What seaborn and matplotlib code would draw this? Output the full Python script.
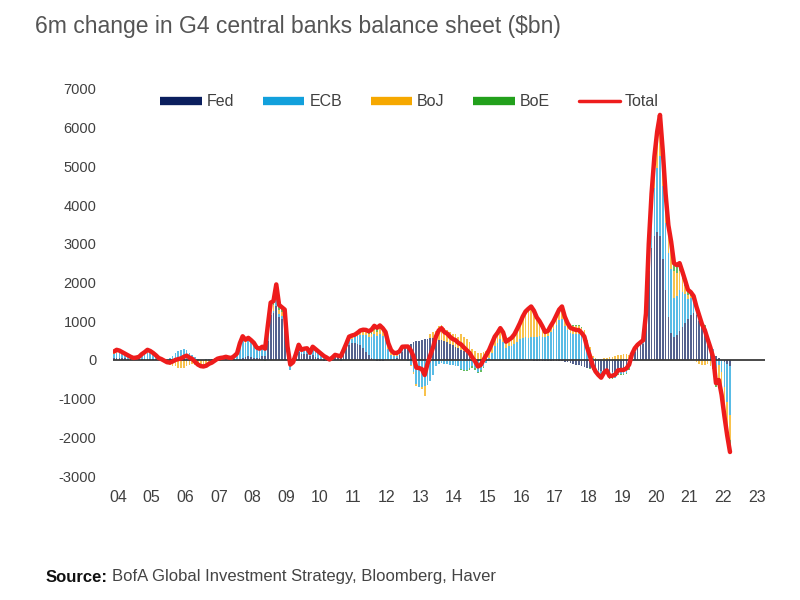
import numpy as np
import pandas as pd
import matplotlib
matplotlib.use("Agg")
import matplotlib.pyplot as plt
import seaborn as sns
from matplotlib.lines import Line2D

# monthly 6m change, $bn, May 2004 .. Sep 2022
fed = [
    40, 50, 50, 40, 40, 30, 30, 20,
    20, 20, 30, 30, 30, 30, 20, 20, 10, 10, 10, 0,
    0, 10, 10, 20, 20, 20, 20, 10, 10, 0, 0, 0,
    0, 0, 0, 10, 10, 10, 10, 0, -10, -10, 0, 20,
    10, 30, 60, 80, 100, 80, 60, 40, 60, 100, 100, 500,
    1150, 1200, 1400, 1100, 1050, 1000, 300, 100, -50, 80, 200, 150,
    150, 150, 100, 120, 80, 40, 0, -20, -20, 0, 40, 80,
    100, 120, 200, 300, 380, 430, 440, 420, 380, 300, 200, 120,
    50, 0, -20, -30, -20, 0, 0, 0, 20, 60, 120, 200,
    300, 380, 420, 450, 480, 500, 520, 540, 550, 560, 560, 550,
    520, 520, 480, 450, 420, 380, 340, 300, 260, 220, 170, 100,
    30, 0, -20, -20, 0, 0, 0, 0, 0, 0, 0, 0,
    0, 0, 0, 0, 0, 0, 0, 0, 0, 0, -20, -30,
    -30, -20, -20, -20, -20, -20, -20, -20, -30, -50, -60, -80,
    -100, -120, -140, -160, -180, -200, -220, -240, -250, -260, -280, -300,
    -300, -320, -320, -300, -280, -260, -250, -220, -150, 50, 200, 300,
    380, 420, 900, 2300, 2900, 3200, 3300, 3200, 2600, 1800, 1100, 700,
    600, 650, 750, 850, 950, 1050, 1150, 1200, 1150, 1000, 850, 700,
    500, 350, 200, 100, 50, 0, -50, -100, -150,
]
ecb = [
    115, 130, 120, 100, 70, 50, 30, 20,
    30, 40, 70, 110, 150, 140, 120, 80, 40, 30, 10, 0,
    50, 100, 160, 200, 240, 260, 240, 170, 115, 70, 30, 10,
    10, 20, 30, 20, 30, 60, 60, 60, 70, 40, 10, 20,
    100, 300, 420, 350, 400, 380, 350, 250, 200, 200, 150, 300,
    80, 70, 200, 80, 90, 100, -30, -250, -60, 10, 110, 50,
    90, 90, 50, 160, 150, 130, 120, 80, 50, -10, 0, 20,
    0, -30, 0, 40, 120, 120, 150, 200, 260, 340, 435, 480,
    550, 660, 630, 680, 620, 520, 270, 130, 70, 40, 40, 100,
    -5, -35, -120, -310, -630, -690, -710, -680, -650, -540, -380, -150,
    -110, -80, -110, -100, -120, -140, -150, -160, -240, -250, -250, -220,
    -160, -200, -280, -250, -180, -90, 40, 190, 350, 440, 540, 460,
    320, 350, 370, 410, 470, 530, 570, 580, 560, 580, 600, 600,
    610, 580, 580, 630, 730, 810, 910, 1020, 1050, 870, 770, 700,
    670, 665, 660, 630, 610, 420, 250, 50, -70, -130, -170, -60,
    -20, -160, -150, -160, -90, -100, -110, -110, -70, 0, 40, 40,
    50, 60, 200, 400, 850, 1250, 1650, 2080, 1900, 1750, 1650, 1650,
    1000, 1000, 1050, 900, 750, 530, 440, 350, 190, 170, 130, 150,
    110, 120, 90, -220, -120, -300, -650, -1000, -1280,
]
boj = [
    60, 80, 70, 60, 50, 40, 20, 10,
    10, 20, 50, 60, 80, 60, 40, 20, 0, -20, -40, -60,
    -120, -150, -170, -200, -220, -200, -150, -120, -100, -120, -150, -170,
    -180, -170, -130, -100, -60, -40, -20, 0, 20, 30, 40, 60,
    50, 80, 100, 60, 40, 30, 20, 20, 20, 40, 60, 100,
    150, 150, 200, 120, 100, 100, 20, 0, 20, 30, 50, 40,
    40, 50, 30, 60, 50, 50, 40, 40, 30, 20, 20, 30,
    10, 0, 50, 80, 100, 80, 60, 80, 100, 100, 80, 60,
    80, 100, 100, 120, 120, 120, 100, 80, 60, 60, 50, 40,
    50, 0, -50, -50, -50, -20, -50, -250, 0, 100, 150, 200,
    350, 380, 350, 330, 300, 300, 320, 300, 400, 380, 370, 350,
    250, 220, 180, 180, 200, 220, 220, 240, 250, 260, 280, 250,
    150, 170, 200, 250, 330, 420, 550, 650, 720, 750, 650, 500,
    400, 300, 150, 130, 150, 180, 220, 250, 300, 250, 200, 180,
    200, 200, 220, 200, 150, 100, 80, 60, 50, 30, 20, 50,
    60, 80, 80, 100, 120, 130, 140, 150, 130, 100, 60, 50,
    20, 20, 50, 150, 300, 500, 600, 700, 600, 500, 500, 500,
    700, 600, 500, 350, 200, 100, 50, 0, -50, -100, -120, -130,
    -100, -150, -200, -400, -350, -450, -550, -600, -650,
]
boe = [
    0, 0, 0, 0, 0, 0, 0, 0,
    0, 0, 0, 0, 0, 0, 0, 0, 0, 0, 0, 0,
    0, 0, 0, 0, 0, 0, 0, 0, 0, 0, 0, 0,
    0, 0, 0, 0, 0, 0, 0, 0, 0, 0, 0, 0,
    10, 20, 30, 30, 30, 20, 10, 10, 10, 0, -20, 0,
    100, 100, 150, 120, 120, 100, 60, 30, 30, 30, 30, 20,
    10, 10, 0, 0, 0, 0, 0, 0, 0, 0, 0, 0,
    0, 0, 0, 0, 0, 0, 0, 0, 20, 40, 60, 80,
    100, 120, 120, 120, 100, 80, 60, 40, 30, 20, 10, 0,
    0, 0, 0, 0, 0, 0, 0, 0, 0, 0, 0, 0,
    0, 0, 0, 0, 0, 0, 0, 0, -20, -30, -40, -50,
    -60, -60, -50, -40, -20, 0, 0, 0, 0, 0, 0, 0,
    0, 0, 0, 0, 0, 0, 0, 20, 40, 50, 40, 30,
    20, 10, 10, 10, 20, 30, 40, 50, 60, 50, 40, 30,
    30, 30, 30, 30, 20, 0, -10, -20, -30, -30, -30, -20,
    -10, -20, -20, -20, -20, -30, -40, -40, -30, 0, 0, 0,
    0, 10, 50, 150, 250, 300, 350, 350, 300, 250, 230, 200,
    200, 200, 200, 180, 150, 130, 110, 100, 90, 80, 60, 50,
    30, 0, -30, -80, -100, -150, -200, -250, -300,
]
total = [
    215, 260, 240, 200, 160, 120, 80, 50,
    60, 80, 150, 200, 260, 230, 180, 120, 50, 20, -20, -60,
    -70, -40, 0, 20, 40, 80, 110, 60, 25, -50, -120, -160,
    -170, -150, -100, -70, -20, 30, 50, 60, 80, 60, 50, 100,
    170, 430, 610, 520, 570, 510, 440, 320, 290, 340, 290, 900,
    1480, 1520, 1950, 1420, 1360, 1300, 350, -120, -60, 150, 390, 260,
    290, 300, 180, 340, 280, 220, 160, 100, 60, 10, 60, 130,
    110, 90, 250, 420, 600, 630, 650, 700, 760, 780, 775, 740,
    780, 880, 830, 890, 820, 720, 430, 250, 180, 180, 220, 340,
    345, 345, 250, 90, -200, -210, -240, -390, -100, 120, 330, 600,
    760, 820, 720, 680, 600, 540, 510, 440, 400, 320, 250, 180,
    60, -40, -170, -130, 0, 130, 260, 430, 600, 700, 820, 710,
    470, 520, 570, 660, 800, 950, 1120, 1250, 1320, 1380, 1270, 1100,
    1000, 870, 720, 750, 880, 1000, 1150, 1300, 1380, 1120, 950, 830,
    800, 775, 770, 700, 600, 320, 100, -150, -300, -390, -460, -330,
    -270, -420, -410, -380, -270, -260, -260, -220, -120, 150, 300, 390,
    450, 510, 1200, 3000, 4300, 5250, 5900, 6330, 5400, 4300, 3480, 3050,
    2500, 2450, 2500, 2280, 2050, 1810, 1750, 1650, 1380, 1150, 920, 770,
    540, 320, 60, -600, -520, -900, -1450, -1950, -2380,
]

banks = ["Fed", "ECB", "BoJ", "BoE"]
colors = ["#0b1f5e", "#12a0dc", "#f6a800", "#22a01c"]
year_labels = [f"{y % 100:02d}" for y in range(2004, 2024)]

months = pd.date_range("2004-05-01", periods=len(total), freq="MS")
t = months.year + (months.month - 0.5) / 12
df = pd.DataFrame({"t": t, "Fed": fed, "ECB": ecb, "BoJ": boj, "BoE": boe, "Total": total})

sns.set_style("white")
plt.rcParams["font.family"] = ["Liberation Sans", "DejaVu Sans"]
plt.rcParams["axes.unicode_minus"] = False

fig = plt.figure(figsize=(8, 6), dpi=100)
ax = fig.add_axes([113 / 800, 124 / 600, 652 / 800, 387 / 600])

pos_bottom = np.zeros(len(df))
neg_bottom = np.zeros(len(df))
for name, col in zip(banks, colors):
    v = df[name].to_numpy(dtype=float)
    pos = np.clip(v, 0, None)
    neg = np.clip(v, None, 0)
    ax.bar(df["t"], pos, width=0.05, bottom=pos_bottom, color=col, linewidth=0, alpha=0.7)
    ax.bar(df["t"], neg, width=0.05, bottom=neg_bottom, color=col, linewidth=0, alpha=0.7)
    pos_bottom += pos
    neg_bottom += neg

ax.axhline(0, color="#3a3a3a", lw=1.3, zorder=3)
sns.lineplot(data=df, x="t", y="Total", color="#ee1c1c", lw=3.2, ax=ax, zorder=4)

ax.set_xlim(2004.35, 2023.75)
ax.set_ylim(-3000, 7000)
ax.set_xticks(np.arange(2004.5, 2024, 1))
ax.set_xticklabels(year_labels)
ax.set_yticks(np.arange(-3000, 7001, 1000))
ax.set_xlabel("")
ax.set_ylabel("")
ax.tick_params(axis="y", length=0, pad=12, labelsize=10.5, labelcolor="#404040")
ax.tick_params(axis="x", length=0, pad=10, labelsize=11.5, labelcolor="#404040")
for s in ax.spines.values():
    s.set_visible(False)

handles = [Line2D([0], [0], color=c, lw=6, solid_capstyle="butt") for c in colors]
handles.append(Line2D([0], [0], color="#ee1c1c", lw=2.5))
fig.legend(handles, banks + ["Total"], ncol=5, loc="upper left",
           bbox_to_anchor=(146 / 800, 1 - 80 / 600), frameon=False,
           handlelength=2.6, handletextpad=0.3, columnspacing=1.8,
           fontsize=11.5, labelcolor="#404040")

fig.text(35 / 800, 1 - 26 / 600, "6m change in G4 central banks balance sheet (\\$bn)",
         fontsize=16.5, color="#555555", va="center", ha="left")
src = fig.text(46 / 800, 1 - 577 / 600, "Source:", fontsize=12, fontweight="bold",
               color="#111111", va="center", ha="left")
fig.canvas.draw()
bb = src.get_window_extent()
fig.text((bb.x1 + 4) / 800, 1 - 577 / 600, "BofA Global Investment Strategy, Bloomberg, Haver",
         fontsize=12, color="#444444", va="center", ha="left")

fig.savefig("out.png", dpi=100)
